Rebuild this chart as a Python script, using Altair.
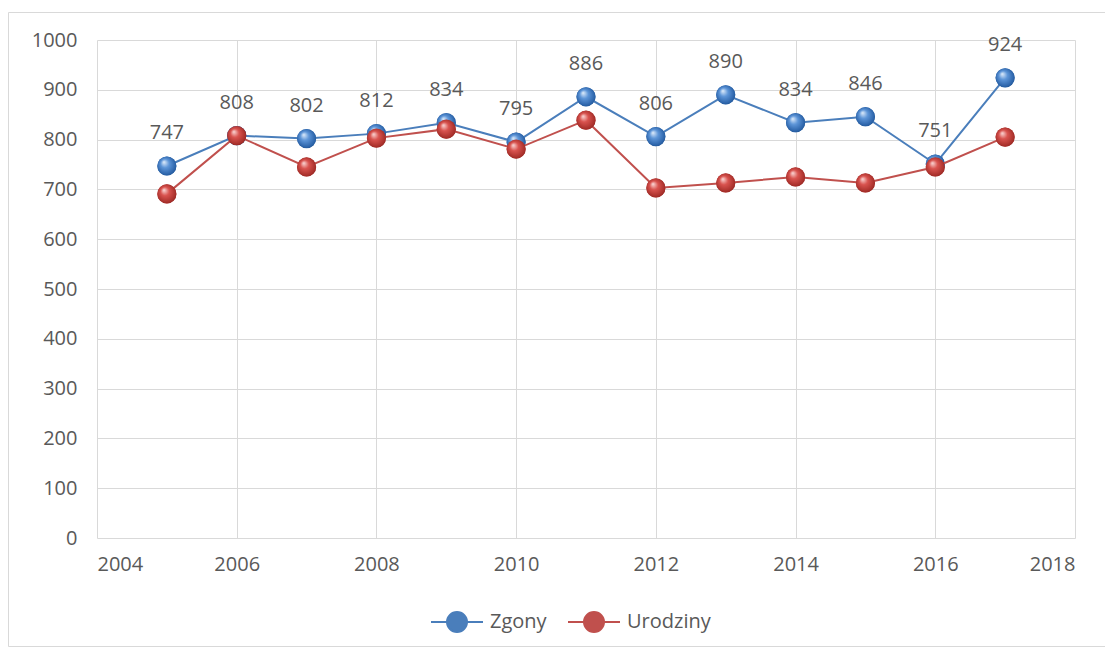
import altair as alt
import pandas as pd

years = [2005, 2006, 2007, 2008, 2009, 2010, 2011, 2012, 2013, 2014, 2015, 2016, 2017]
zgony = [747, 808, 802, 812, 834, 795, 886, 806, 890, 834, 846, 751, 924]
urodziny = [691, 808, 745, 803, 821, 781, 839, 703, 713, 725, 713, 745, 805]
series_names = ["Zgony", "Urodziny"]
series_colors = ["#4a7ebb", "#c0504d"]
x_ticks = [2004, 2006, 2008, 2010, 2012, 2014, 2016, 2018]
y_ticks = [0, 100, 200, 300, 400, 500, 600, 700, 800, 900, 1000]

FONT = "Open Sans"
TXT = "#595959"
GRID = "#d9d9d9"

df_z = pd.DataFrame({"rok": years, "wartosc": zgony, "seria": "Zgony"})
df_u = pd.DataFrame({"rok": years, "wartosc": urodziny, "seria": "Urodziny"})
df_all = pd.concat([df_z, df_u], ignore_index=True)

x_enc = alt.X("rok:Q", scale=alt.Scale(domain=[2004, 2018], nice=False),
              axis=alt.Axis(values=x_ticks, format="d", title=None))
y_enc = alt.Y("wartosc:Q", scale=alt.Scale(domain=[0, 1000], nice=False),
              axis=alt.Axis(values=y_ticks, format="d", title=None))

grad_blue = alt.RadialGradient(
    gradient="radial",
    stops=[alt.GradientStop(offset=0, color="#d6e6f8"),
           alt.GradientStop(offset=0.35, color="#5d95d8"),
           alt.GradientStop(offset=0.8, color="#2b63a9"),
           alt.GradientStop(offset=1, color="#1d4a80")],
    x1=0.35, y1=0.3, r1=0.02, x2=0.5, y2=0.5, r2=0.6)
grad_red = alt.RadialGradient(
    gradient="radial",
    stops=[alt.GradientStop(offset=0, color="#f8cfcd"),
           alt.GradientStop(offset=0.35, color="#d9534f"),
           alt.GradientStop(offset=0.8, color="#a8302b"),
           alt.GradientStop(offset=1, color="#7a1c18")],
    x1=0.35, y1=0.3, r1=0.02, x2=0.5, y2=0.5, r2=0.6)

PT = 370
legend_path = "M-2.6,0H2.6M-1,0A1,1 0 1,0 1,0A1,1 0 1,0 -1,0Z"
sc = alt.Scale(domain=series_names, range=series_colors)
leg = alt.Legend(
    title=None, orient="none", direction="horizontal",
    legendX=333, legendY=571, padding=0,
    symbolType=legend_path, symbolSize=400, symbolStrokeWidth=2, symbolOpacity=1,
    symbolOffset=16, labelOffset=22, columnPadding=17,
    labelFont=FONT, labelFontSize=20, labelColor=TXT,
)

legend_pts = alt.Chart(df_all).mark_point(filled=True, size=PT - 80, strokeWidth=2, opacity=1).encode(
    x=x_enc, y=y_enc,
    fill=alt.Fill("seria:N", scale=sc, legend=leg),
    stroke=alt.Stroke("seria:N", scale=sc, legend=leg),
)

line_z = alt.Chart(df_z).mark_line(color=series_colors[0], strokeWidth=2).encode(x=x_enc, y=y_enc)
pts_z = alt.Chart(df_z).mark_point(filled=True, fill=grad_blue, size=PT, strokeWidth=0, opacity=1).encode(x=x_enc, y=y_enc)
line_u = alt.Chart(df_u).mark_line(color=series_colors[1], strokeWidth=2).encode(x=x_enc, y=y_enc)
pts_u = alt.Chart(df_u).mark_point(filled=True, fill=grad_red, size=PT, strokeWidth=0, opacity=1).encode(x=x_enc, y=y_enc)

labels = alt.Chart(df_z).mark_text(font=FONT, fontSize=20, color=TXT, dy=-33, baseline="middle").encode(
    x=x_enc, y=y_enc, text=alt.Text("wartosc:Q", format="d"))

frame = alt.Chart(alt.Data(values=[{}])).mark_rect(filled=False, stroke=GRID, strokeWidth=1).encode(
    x=alt.value(-88.5), x2=alt.value(1008.5), y=alt.value(-27.5), y2=alt.value(606.5))

chart = alt.layer(frame, legend_pts, line_z, pts_z, line_u, pts_u, labels).properties(
    width=978, height=498,
    autosize=alt.AutoSizeParams(type="none"),
    padding={"left": 89, "top": 32, "right": 30, "bottom": 110},
    background="white",
).configure_view(stroke="transparent").configure_axis(
    labelFont=FONT, labelFontSize=20, labelColor=TXT, ticks=False, domain=False,
    gridColor=GRID, gridWidth=1,
).configure_axisY(labelPadding=20).configure_axisX(labelPadding=16)

chart.save("out.html", embed_options={"renderer": "svg", "actions": False})
